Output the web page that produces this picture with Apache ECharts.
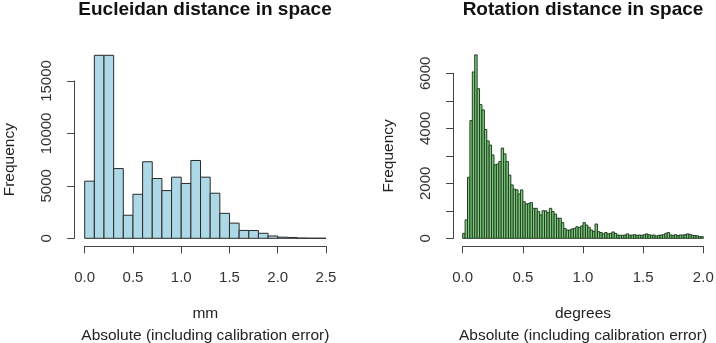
<!DOCTYPE html>
<html>
<head>
<meta charset="utf-8">
<script src="https://cdn.jsdelivr.net/npm/echarts@6/dist/echarts.min.js"></script>
<style>
  html, body { margin: 0; padding: 0; background: #fff; }
  #chart { width: 716px; height: 343px; }
</style>
</head>
<body>
<div id="chart"></div>
<script>
// left histogram: euclidean distance, bins of 0.1 mm from 0 to 2.5
var euclidBinWidth = 0.1;
var euclidCounts = [5450, 17450, 17450, 6650, 2200, 4200, 7300, 5700, 4550, 5830,
  5230, 7420, 5830, 4300, 2380, 1450, 750, 740, 480, 220,
  110, 80, 25, 10, 5];
var euclidTicks = [0, 5000, 10000, 15000];

// right histogram: rotation distance, bins of 0.02 degrees from 0 to 2.0
var rotBinWidth = 0.02;
var rotCounts = [180, 670, 2220, 4280, 6050, 6670, 5440, 4860, 4670, 3960,
  3540, 3390, 3030, 2670, 2700, 2790, 3280, 3070, 2790, 2300,
  1940, 1790, 1760, 1610, 1760, 1330, 1250, 1270, 1300, 1090,
  1090, 970, 850, 1000, 1000, 930, 1090, 970, 880, 730,
  730, 570, 360, 300, 300, 340, 360, 420, 390, 450,
  570, 480, 400, 300, 250, 520, 240, 210, 160, 210,
  160, 180, 230, 180, 120, 110, 110, 120, 160, 110,
  120, 130, 110, 120, 110, 130, 160, 130, 110, 120,
  85, 110, 120, 130, 180, 210, 120, 110, 130, 100,
  120, 120, 130, 160, 140, 110, 100, 90, 60, 60];
var rotTicks = [0, 1000, 2000, 3000, 4000, 5000, 6000];
var rotLabelStep = 2000; // R drops every other label here

var FONT = "'Liberation Sans', Arial, sans-serif";

function toBins(counts, w) {
  var out = [];
  for (var i = 0; i < counts.length; i++) {
    out.push([i * w, (i + 1) * w, counts[i]]);
  }
  return out;
}

function histItem(fill, stroke) {
  return function (params, api) {
    var p0 = api.coord([api.value(0), 0]);
    var p1 = api.coord([api.value(1), api.value(2)]);
    return {
      type: 'rect',
      shape: { x: p0[0], y: p1[1], width: p1[0] - p0[0], height: p0[1] - p1[1] },
      style: { fill: fill, stroke: stroke, lineWidth: 1 }
    };
  };
}

function xAxisOf(idx, max, name) {
  return {
    type: 'value', gridIndex: idx, min: 0, max: max, interval: 0.5, offset: 8,
    splitLine: { show: false },
    axisLine: { onZero: false, lineStyle: { color: '#444', width: 1 } },
    axisTick: { length: 7, lineStyle: { color: '#444' } },
    axisLabel: {
      margin: 24, fontSize: 15, color: '#333', fontFamily: FONT,
      formatter: function (v) { return v.toFixed(1); }
    },
    name: name, nameLocation: 'middle', nameGap: 56,
    nameTextStyle: { fontSize: 15.5, lineHeight: 22, color: '#222', fontFamily: FONT }
  };
}

function yAxisOf(idx, ticks, step, offset) {
  return {
    type: 'value', gridIndex: idx, min: ticks[0], max: ticks[ticks.length - 1],
    interval: ticks[1] - ticks[0], offset: offset,
    splitLine: { show: false },
    axisLine: { show: true, onZero: false, lineStyle: { color: '#444', width: 1 } },
    axisTick: { show: true, length: 7, lineStyle: { color: '#444' } },
    axisLabel: {
      rotate: 90, margin: 19.5, fontSize: 15, color: '#333', fontFamily: FONT,
      formatter: function (v) { return v % step === 0 ? String(v) : ''; }
    },
    name: 'Frequency', nameLocation: 'middle', nameRotate: 90, nameGap: 56.5,
    nameTextStyle: { fontSize: 15.5, color: '#222', fontFamily: FONT }
  };
}

var chart = echarts.init(document.getElementById('chart'), null, { renderer: 'canvas' });

var option = {
  backgroundColor: '#fff',
  animation: false,
  title: [
    { text: 'Eucleidan distance in space', left: 205, top: 0, textAlign: 'center', padding: 0,
      textStyle: { fontSize: 19, fontWeight: 'bold', color: '#111', fontFamily: FONT } },
    { text: 'Rotation distance in space', left: 583, top: 0, textAlign: 'center', padding: 0,
      textStyle: { fontSize: 19, fontWeight: 'bold', color: '#111', fontFamily: FONT } }
  ],
  grid: [
    { left: 84.7, top: 81, width: 241.3, height: 157.3, outerBoundsMode: 'none', containLabel: false },
    { left: 462.7, top: 73.3, width: 240.6, height: 165, outerBoundsMode: 'none', containLabel: false }
  ],
  xAxis: [
    xAxisOf(0, 2.5, 'mm\nAbsolute (including calibration error)'),
    xAxisOf(1, 2.0, 'degrees\nAbsolute (including calibration error)')
  ],
  yAxis: [
    yAxisOf(0, euclidTicks, 5000, 10.5),
    yAxisOf(1, rotTicks, rotLabelStep, 9.5)
  ],
  series: [
    {
      type: 'custom', xAxisIndex: 0, yAxisIndex: 0, clip: false,
      renderItem: histItem('#ADD8E6', '#2a2a2a'),
      encode: { x: [0, 1], y: 2 },
      data: toBins(euclidCounts, euclidBinWidth)
    },
    {
      type: 'custom', xAxisIndex: 1, yAxisIndex: 1, clip: false,
      renderItem: histItem('#7fcb7f', '#213f21'),
      encode: { x: [0, 1], y: 2 },
      data: toBins(rotCounts, rotBinWidth)
    }
  ]
};

chart.setOption(option);
</script>
</body>
</html>
